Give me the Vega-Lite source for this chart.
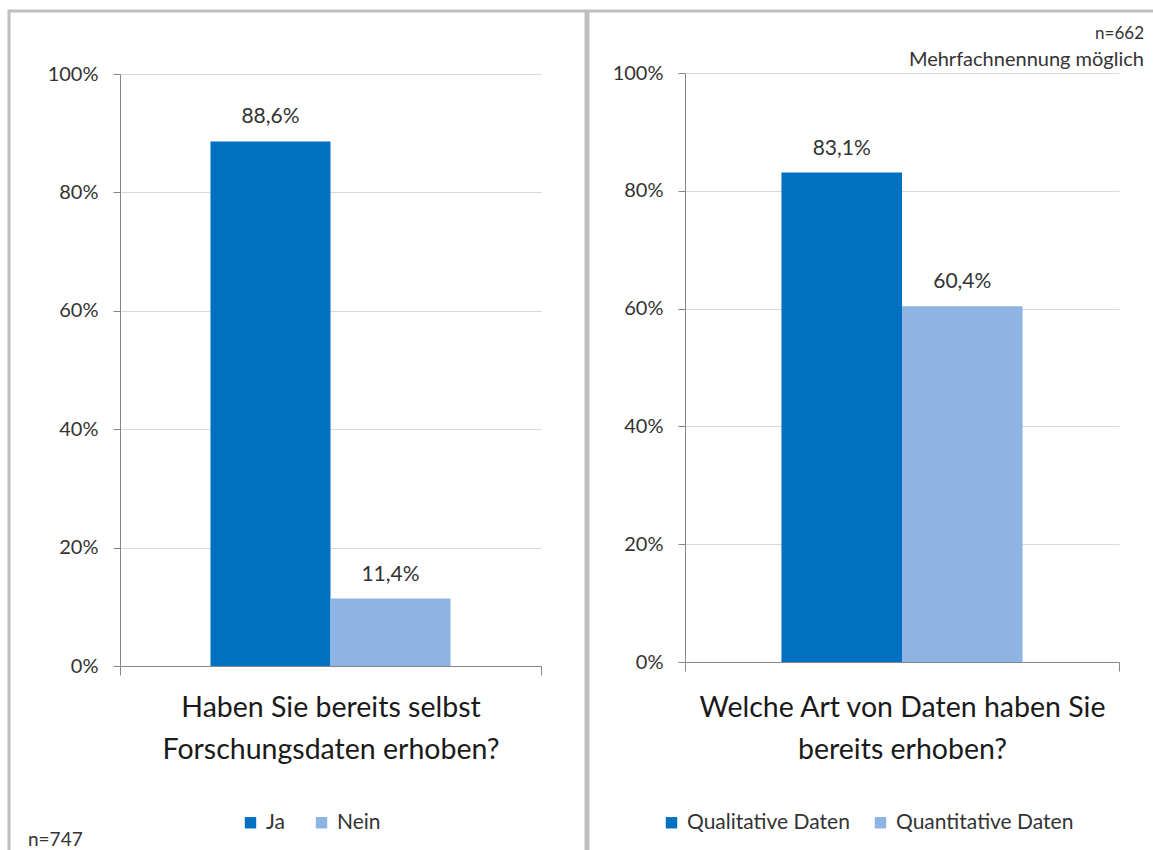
{
  "$schema": "https://vega.github.io/schema/vega-lite/v6.json",
  "padding": {"left": 7, "top": 9, "right": 0, "bottom": 0},
  "background": "white",
  "spacing": -3,
  "config": {
    "locale": {"number": {"decimal": ",", "thousands": ".", "grouping": [3], "currency": ["", " €"]}},
    "font": "Lato",
    "view": {"stroke": "#BFBFBF", "strokeWidth": 3},
    "axis": {"labelFont": "Lato", "titleFont": "Lato", "labelColor": "#333333", "titleColor": "#1a1a1a", "domainColor": "#868686", "tickColor": "#868686", "gridColor": "#D9D9D9", "domainWidth": 1, "tickWidth": 1},
    "legend": {"labelFont": "Lato", "labelColor": "#333333", "labelFontSize": 21, "labelLimit": 400, "symbolType": "square", "symbolSize": 130, "symbolStrokeWidth": 0, "labelOffset": 5, "direction": "horizontal", "orient": "none", "title": null},
    "title": {"font": "Lato", "fontWeight": "normal", "color": "#333333", "fontSize": 17, "subtitleFont": "Lato", "subtitleColor": "#333333", "subtitleFontSize": 20}
  },
  "resolve": {"scale": {"x": "independent", "y": "independent", "xOffset": "independent", "color": "independent"}, "legend": {"color": "independent"}},
  "hconcat": [
    {
      "width": 577,
      "height": 845,
      "data": {"values": [
        {"frage": "Forschungsdaten erhoben", "antwort": "Ja", "anteil": 0.886},
        {"frage": "Forschungsdaten erhoben", "antwort": "Nein", "anteil": 0.114}
      ]},
      "title": {"text": "n=747", "orient": "bottom", "anchor": "start", "frame": "group", "offset": -25, "dx": 19, "fontSize": 19},
      "encoding": {
        "x": {"field": "frage", "type": "nominal", "scale": {"range": [111, 532], "paddingInner": 0, "paddingOuter": 0},
          "axis": {"orient": "bottom", "offset": -190, "labels": false, "ticks": true, "tickBand": "extent", "tickSize": 9, "domain": true, "grid": false,
            "title": ["Haben Sie bereits selbst", "Forschungsdaten erhoben?"], "titleFontSize": 28.5, "titleFontWeight": "normal", "titlePadding": 18, "titleLineHeight": 42}},
        "xOffset": {"field": "antwort", "type": "nominal", "sort": ["Ja", "Nein"], "scale": {"paddingOuter": 0.754, "paddingInner": 0}},
        "y": {"field": "anteil", "type": "quantitative", "scale": {"domain": [0, 1], "range": [655, 63]},
          "axis": {"offset": -111, "values": [0, 0.2, 0.4, 0.6, 0.8, 1], "format": ".0%", "title": null, "tickSize": 7, "labelPadding": 15, "labelFontSize": 20, "grid": true, "domain": true}}
      },
      "layer": [
        {"mark": {"type": "bar"},
         "encoding": {"color": {"field": "antwort", "type": "nominal", "sort": ["Ja", "Nein"], "scale": {"range": ["#0070C0", "#8EB4E3"]},
           "legend": {"legendX": 231, "legendY": 801, "columnPadding": 26}}}},
        {"mark": {"type": "text", "baseline": "bottom", "dy": -14, "fontSize": 21, "color": "#333333"},
         "encoding": {"text": {"field": "anteil", "type": "quantitative", "format": ".1%"}}}
      ]
    },
    {
      "width": 572,
      "height": 845,
      "data": {"values": [
        {"frage": "Art der Daten", "antwort": "Qualitative Daten", "anteil": 0.831},
        {"frage": "Art der Daten", "antwort": "Quantitative Daten", "anteil": 0.604}
      ]},
      "title": {"text": "n=662", "subtitle": "Mehrfachnennung möglich", "orient": "top", "anchor": "end", "frame": "group", "offset": -60, "dx": -16, "subtitlePadding": 7},
      "encoding": {
        "x": {"field": "frage", "type": "nominal", "scale": {"range": [97, 531], "paddingInner": 0, "paddingOuter": 0},
          "axis": {"orient": "bottom", "offset": -194, "labels": false, "ticks": true, "tickBand": "extent", "tickSize": 9, "domain": true, "grid": false,
            "title": ["Welche Art von Daten haben Sie", "bereits erhoben?"], "titleFontSize": 28.5, "titleFontWeight": "normal", "titlePadding": 22, "titleLineHeight": 42}},
        "xOffset": {"field": "antwort", "type": "nominal", "sort": ["Qualitative Daten", "Quantitative Daten"], "scale": {"paddingOuter": 0.8, "paddingInner": 0}},
        "y": {"field": "anteil", "type": "quantitative", "scale": {"domain": [0, 1], "range": [651, 62]},
          "axis": {"offset": -97, "values": [0, 0.2, 0.4, 0.6, 0.8, 1], "format": ".0%", "title": null, "tickSize": 7, "labelPadding": 15, "labelFontSize": 20, "grid": true, "domain": true}}
      },
      "layer": [
        {"mark": {"type": "bar"},
         "encoding": {"color": {"field": "antwort", "type": "nominal", "sort": ["Qualitative Daten", "Quantitative Daten"], "scale": {"range": ["#0070C0", "#8EB4E3"]},
           "legend": {"legendX": 73, "legendY": 801, "columnPadding": 20}}}},
        {"mark": {"type": "text", "baseline": "bottom", "dy": -14, "fontSize": 21, "color": "#333333"},
         "encoding": {"text": {"field": "anteil", "type": "quantitative", "format": ".1%"}}}
      ]
    }
  ]
}
